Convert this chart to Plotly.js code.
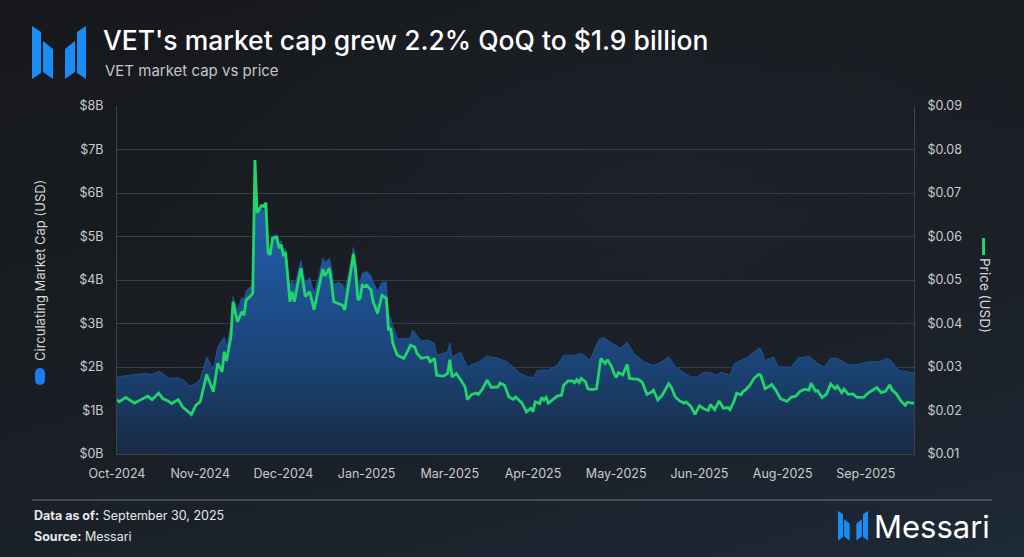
<!DOCTYPE html>
<html><head><meta charset="utf-8">
<script src="https://cdn.plot.ly/plotly-3.0.1.min.js"></script>
<style>
html,body{margin:0;padding:0;width:1024px;height:557px;overflow:hidden;}
body{background:radial-gradient(ellipse at 65% 35%,#1d2128 0%,rgba(29,33,40,0) 55%),linear-gradient(165deg,#16181c 0%,#191c21 40%,#1b222b 75%,#1e2a38 100%);position:relative;font-family:Inter,sans-serif;}
#chart{position:absolute;left:0;top:0;width:1024px;height:557px;}
.logo{position:absolute;}
.pill{position:absolute;left:35px;top:368px;width:10px;height:17px;border-radius:5px;background:#1a7cf5;}
.gmark{position:absolute;left:982px;top:238px;width:3px;height:17px;background:#20d56a;}
</style></head>
<body>
<div id="chart"></div>
<svg class="logo" style="left:32px;top:26px" width="54" height="54" viewBox="0 0 54 54">
  <g fill="#1a8cf5">
    <polygon points="0,0 9,6 9,47 0,53"/>
    <polygon points="11,15 21,23 21,53 11,46"/>
    <polygon points="33,23 43,15 43,46 33,53"/>
    <polygon points="45,6 54,0 54,53 45,47"/>
  </g>
</svg>
<svg class="logo" style="left:838px;top:511px" width="30" height="30" viewBox="0 0 54 54">
  <g fill="#1a8cf5">
    <polygon points="0,0 9,6 9,47 0,53"/>
    <polygon points="11,15 21,23 21,53 11,46"/>
    <polygon points="33,23 43,15 43,46 33,53"/>
    <polygon points="45,6 54,0 54,53 45,47"/>
  </g>
</svg>
<div class="pill"></div>
<div class="gmark"></div>
<script>
// ---- data ----
const startDate = '2024-10-01';
const endDate = '2025-09-30';

// Price (USD), days since 2024-10-01
const priceDays = [
  0,1,4,8,11,14,16,19,21,23,
  25,28,30,34,36,38,41,44,46,48,
  49,50,52,53,55,57,58,59,61,62,
  63,64,66,67,68,69,70,71,73,74,
  75,76,77,79,80,81,82,84,86,88,
  90,92,94,95,97,98,99,101,103,104,
  106,108,109,110,111,112,113,114,116,117,
  119,121,123,124,125,126,128,130,131,133,
  134,136,137,139,142,143,145,146,149,151,
  152,153,155,157,159,160,162,164,165,167,
  169,171,174,175,177,179,181,182,184,185,
  187,189,190,191,193,194,195,196,197,199,
  201,203,204,206,208,209,210,211,212,214,
  215,217,219,220,221,223,224,226,227,228,
  229,231,232,233,234,236,238,240,242,244,
  245,247,249,250,252,253,255,257,259,260,
  262,264,266,268,270,271,273,275,277,279,
  280,282,283,285,286,287,289,291,293,294,
  296,298,299,301,303,306,308,310,312,314,
  316,317,319,320,322,324,326,328,329,331,
  332,334,336,338,341,343,345,347,349,351,
  353,354,356,358,360,361,363,364
];
const priceValues = [
  .0225,.0220,.0230,.0217,.0225,.0233,.0225,.0240,.0227,.0223,
  .0216,.0225,.0208,.0191,.0212,.0220,.0283,.0243,.0308,.0289,
  .0335,.0314,.0369,.0450,.0404,.0427,.0419,.0454,.0463,.0470,
  .0776,.0654,.0671,.0669,.0678,.0562,.0558,.0596,.0598,.0573,
  .0581,.0558,.0561,.0450,.0473,.0450,.0477,.0527,.0462,.0473,
  .0432,.0475,.0525,.0509,.0527,.0492,.0450,.0446,.0442,.0431,
  .0496,.0560,.0519,.0454,.0458,.0488,.0485,.0488,.0477,.0450,
  .0423,.0465,.0458,.0385,.0389,.0354,.0327,.0323,.0320,.0339,
  .0350,.0346,.0331,.0320,.0323,.0312,.0320,.0281,.0279,.0285,
  .0317,.0277,.0285,.0270,.0254,.0225,.0237,.0240,.0237,.0250,
  .0270,.0253,.0254,.0263,.0258,.0231,.0226,.0231,.0222,.0217,
  .0197,.0205,.0197,.0220,.0216,.0230,.0224,.0230,.0217,.0225,
  .0233,.0235,.0258,.0268,.0268,.0264,.0271,.0264,.0274,.0266,
  .0250,.0248,.0250,.0285,.0320,.0308,.0317,.0300,.0285,.0276,
  .0287,.0282,.0293,.0306,.0274,.0272,.0272,.0264,.0237,.0242,
  .0247,.0224,.0235,.0244,.0262,.0255,.0231,.0222,.0217,.0219,
  .0210,.0191,.0211,.0204,.0200,.0214,.0202,.0222,.0205,.0207,
  .0202,.0224,.0240,.0236,.0244,.0247,.0258,.0274,.0283,.0281,
  .0250,.0256,.0260,.0246,.0227,.0221,.0231,.0233,.0244,.0249,
  .0247,.0263,.0244,.0246,.0230,.0237,.0261,.0250,.0256,.0241,
  .0249,.0237,.0238,.0230,.0230,.0240,.0246,.0253,.0241,.0244,
  .0259,.0247,.0238,.0222,.0212,.0219,.0217,.0217
];

// Circulating market cap (USD billions), days since 2024-10-01
const mcapDays = [
  0,4,8,13,16,19,22,24,28,31,
  33,36,38,41,44,46,49,50,52,53,
  55,57,58,59,61,62,63,64,66,67,
  68,69,70,71,73,74,75,76,77,79,
  80,81,82,84,86,88,90,92,94,95,
  97,98,99,101,103,104,106,108,109,110,
  111,112,114,116,117,119,121,123,124,125,
  126,128,131,134,135,139,142,145,146,148,
  151,152,153,157,160,162,165,169,174,178,
  181,184,188,190,192,197,201,204,209,212,
  216,220,222,226,230,233,236,241,245,248,
  252,255,258,262,265,268,271,274,276,280,
  282,285,288,290,293,294,296,300,302,308,
  311,316,320,323,326,329,334,338,343,348,
  352,354,357,360,363,364
];
const mcapValues = [
  1.77,1.80,1.83,1.85,1.83,1.91,1.80,1.74,1.75,1.68,
  1.56,1.62,1.72,2.23,1.95,2.46,2.69,2.46,2.95,3.62,
  3.30,3.60,3.55,3.75,3.85,3.90,6.40,5.50,5.65,5.60,
  5.70,4.75,4.70,5.00,5.05,4.85,4.90,4.70,4.72,3.85,
  4.00,3.85,4.05,4.45,3.95,4.05,3.70,4.05,4.50,4.40,
  4.50,4.25,3.90,3.95,3.90,3.75,4.20,4.75,4.45,3.95,
  3.95,4.15,4.20,4.10,3.95,3.75,3.95,3.95,3.20,3.12,
  2.95,2.65,2.65,2.67,2.85,2.60,2.62,2.55,2.27,2.30,
  2.35,2.55,2.23,2.34,2.00,2.05,2.11,2.25,2.20,2.12,
  2.00,1.85,1.77,1.75,1.92,1.93,2.04,2.27,2.27,2.31,
  2.16,2.62,2.69,2.55,2.43,2.57,2.31,2.11,2.04,2.10,
  2.23,2.00,1.90,1.77,1.77,1.88,1.87,1.81,1.88,1.81,
  2.08,2.15,2.23,2.31,2.43,2.42,2.15,2.23,2.00,2.00,
  2.20,2.25,2.08,2.00,2.20,2.20,2.05,2.05,2.12,2.12,
  2.20,2.12,1.92,1.90,1.86,1.86
];

const xTickDates = ['2024-10-01','2024-11-08','2024-12-16','2025-01-23','2025-03-02','2025-04-09','2025-05-17','2025-06-24','2025-08-01','2025-09-08'];
const xTickLabels = ['Oct-2024','Nov-2024','Dec-2024','Jan-2025','Mar-2025','Apr-2025','May-2025','Jun-2025','Aug-2025','Sep-2025'];
const mcapTickVals = [0,1,2,3,4,5,6,7,8];
const mcapTickLabels = ['$0B','$1B','$2B','$3B','$4B','$5B','$6B','$7B','$8B'];
const priceTickVals = [0.01,0.02,0.03,0.04,0.05,0.06,0.07,0.08,0.09];
const priceTickLabels = ['$0.01','$0.02','$0.03','$0.04','$0.05','$0.06','$0.07','$0.08','$0.09'];

// ---- build ----
const t0 = Date.UTC(2024,9,1);
const toDate = d => new Date(t0 + d*86400000).toISOString().slice(0,10);

const FONT = 'Inter, "Open Sans", sans-serif';
const W = 1024, H = 557;
const M = {l:117, r:110, t:106, b:103};
const PW = W - M.l - M.r, PH = H - M.t - M.b;
const px = x => (x - M.l) / PW;
const py = y => (H - M.b - y) / PH;

const traces = [
  {
    x: mcapDays.map(toDate), y: mcapValues, type:'scatter', mode:'lines',
    name:'Circulating Market Cap (USD)', yaxis:'y',
    line:{color:'#2059a6', width:0.8},
    fill:'tozeroy',
    fillgradient:{type:'vertical', start:0, stop:6.5,
      colorscale:[[0,'#172a44'],[0.3,'#1b4273'],[0.65,'#1f5499'],[1,'#2363b0']]},
    hoverinfo:'skip'
  },
  {
    x: priceDays.map(toDate), y: priceValues, type:'scatter', mode:'lines',
    name:'Price (USD)', yaxis:'y2',
    line:{color:'#20d56a', width:2.8},
    hoverinfo:'skip'
  }
];

const axisFont = {family:FONT, size:12.5, color:'#c9ccd1'};
const layout = {
  width:W, height:H, margin:M,
  paper_bgcolor:'rgba(0,0,0,0)', plot_bgcolor:'rgba(0,0,0,0)',
  showlegend:false,
  font:{family:FONT, color:'#c9ccd1'},
  title:{text:"VET's market cap grew 2.2% QoQ to $1.9 billion",
    xref:'container', yref:'container', x:103/W, xanchor:'left', y:1-41/H, yanchor:'middle',
    font:{family:FONT, size:26.5, color:'#ffffff', weight:500}},
  xaxis:{type:'date', range:[startDate, endDate], tickvals:xTickDates, ticktext:xTickLabels,
    showgrid:false, zeroline:false, showline:true, linecolor:'#3b4049', linewidth:1,
    ticks:'', tickfont:axisFont, ticklabelstandoff:8, fixedrange:true},
  yaxis:{range:[0,8], tickvals:mcapTickVals, ticktext:mcapTickLabels,
    showgrid:true, gridcolor:'#3a3f47', gridwidth:1, zeroline:false,
    showline:true, linecolor:'#3b4049', ticks:'', tickfont:axisFont, ticklabelstandoff:10},
  yaxis2:{range:[0.01,0.09], tickvals:priceTickVals, ticktext:priceTickLabels,
    overlaying:'y', side:'right', showgrid:false, zeroline:false,
    showline:true, linecolor:'#3b4049', ticks:'', tickfont:axisFont, ticklabelstandoff:10},
  annotations:[
    {text:'VET market cap vs price', xref:'paper', yref:'paper', x:px(103), y:py(70),
      xanchor:'left', yanchor:'middle', showarrow:false,
      font:{family:FONT, size:15, color:'#c3c7cd'}},
    {text:'Circulating Market Cap (USD)', xref:'paper', yref:'paper', x:px(40), y:py(271),
      xanchor:'center', yanchor:'middle', textangle:-90, showarrow:false,
      font:{family:FONT, size:13, color:'#d6d9dd'}},
    {text:'Price (USD)', xref:'paper', yref:'paper', x:px(985), y:py(295),
      xanchor:'center', yanchor:'middle', textangle:90, showarrow:false,
      font:{family:FONT, size:13.5, color:'#d6d9dd'}},
    {text:'<b>Data as of:</b> September 30, 2025', xref:'paper', yref:'paper', x:px(32), y:py(515),
      xanchor:'left', yanchor:'middle', showarrow:false,
      font:{family:FONT, size:12.5, color:'#e6e8eb'}},
    {text:'<b>Source:</b> Messari', xref:'paper', yref:'paper', x:px(32), y:py(536),
      xanchor:'left', yanchor:'middle', showarrow:false,
      font:{family:FONT, size:12.5, color:'#e6e8eb'}},
    {text:'Messari', xref:'paper', yref:'paper', x:px(992), y:py(526),
      xanchor:'right', yanchor:'middle', showarrow:false,
      font:{family:FONT, size:31, color:'#ffffff', weight:400}}
  ],
  shapes:[
    {type:'line', xref:'paper', yref:'paper', x0:px(32), x1:px(992), y0:py(500), y1:py(500),
      line:{color:'#6d7580', width:1}}
  ]
};

Plotly.newPlot('chart', traces, layout, {staticPlot:true, displayModeBar:false});
</script>
</body></html>
